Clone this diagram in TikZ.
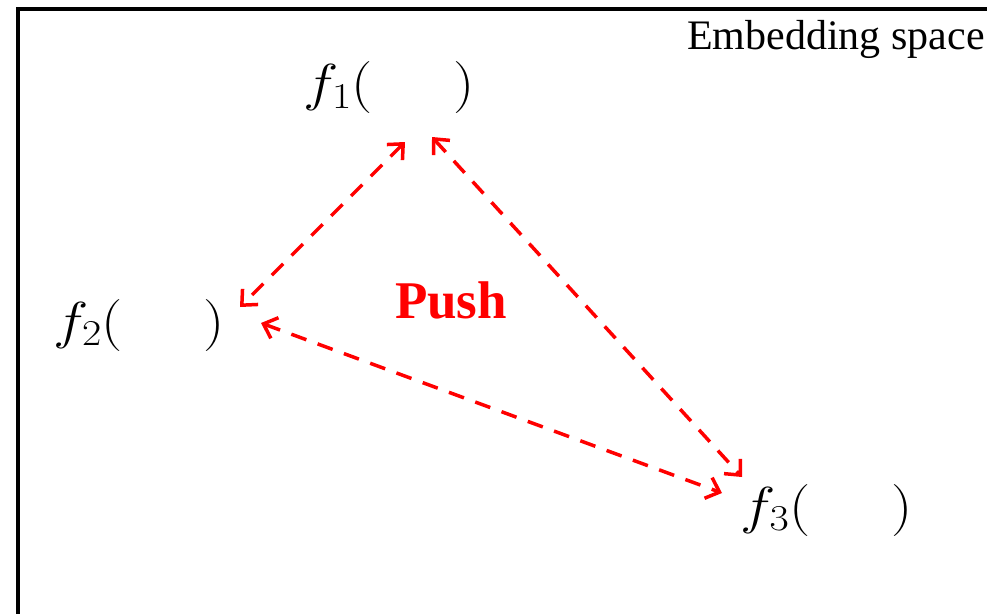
\documentclass[tikz,border=0pt]{standalone}
\usepackage{fix-cm}
\usepackage{graphicx}
\usepackage[no-math]{fontspec}
\newfontfamily\tnr{Liberation Serif}
\usetikzlibrary{arrows.meta}
\begin{document}
\begin{tikzpicture}[x=1pt,y=-1pt,
  lbl/.style={inner sep=0pt, font=\fontsize{52}{60}\selectfont},
  pusharrow/.style={red, line width=3.5pt, dash pattern=on 16pt off 12pt,
    {Straight Barb[length=12pt,width=22pt]}-{Straight Barb[length=12pt,width=22pt]}}]
\useasboundingbox (0,0) rectangle (987,613);
\clip (0,0) rectangle (987,613);
\draw[line width=4pt] (17.5,8.5) rectangle (1100,700);
\node[anchor=base west, inner sep=0pt] (title) at (687,49)
  {\tnr\fontsize{42}{48}\selectfont Embedding space};
\node[lbl] (f1) at (389,87.5) {\scalebox{1.15}[1]{$f_1($\hspace{70pt}$)$}};
\node[lbl] (f2) at (139,325) {\scalebox{1.15}[1]{$f_2($\hspace{70pt}$)$}};
\node[lbl] (f3) at (826.5,510) {\scalebox{1.15}[1]{$f_3($\hspace{70pt}$)$}};
\node[anchor=base, inner sep=0pt, text=red] (push) at (451,318)
  {\tnr\bfseries\fontsize{53}{60}\selectfont Push};
\coordinate (a1s) at (405,142);
\coordinate (a1e) at (240,307);
\coordinate (a2s) at (432,137);
\coordinate (a2e) at (742,477);
\coordinate (a3s) at (261,323);
\coordinate (a3e) at (722,493);
\draw[pusharrow] (a1s) -- (a1e);
\draw[pusharrow] (a2s) -- (a2e);
\draw[pusharrow] (a3s) -- (a3e);
\end{tikzpicture}
\end{document}
